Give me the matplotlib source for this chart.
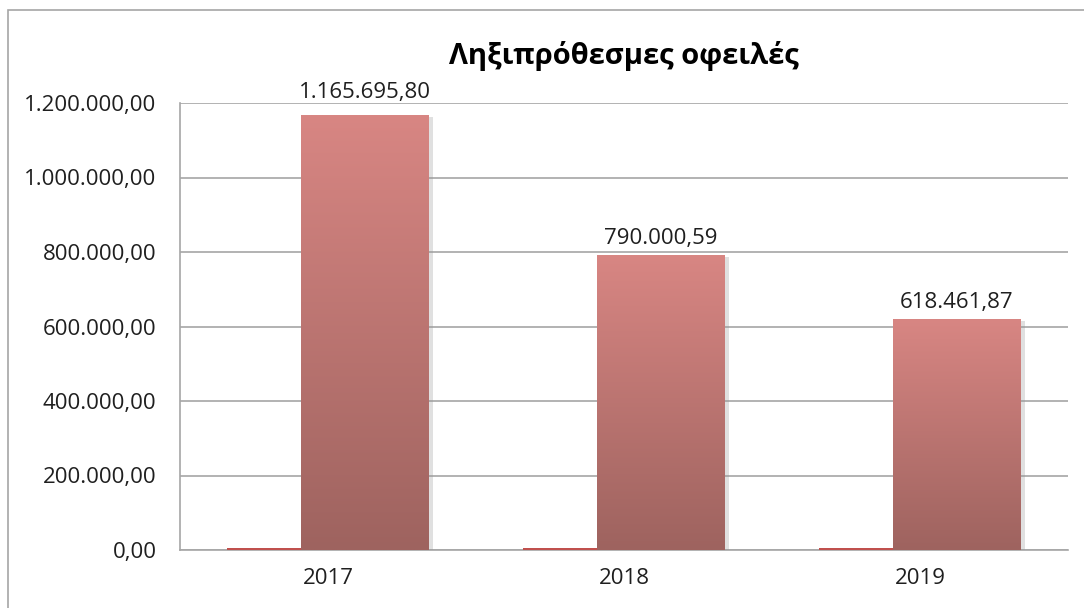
import matplotlib
matplotlib.use("Agg")
from matplotlib import pyplot as plt
from matplotlib.patches import Rectangle
import matplotlib.patheffects as pe
import numpy as np

plt.rcParams['font.family'] = ['Open Sans', 'DejaVu Sans']

years = ['2017', '2018', '2019']
overdue = [1165695.80, 790000.59, 618461.87]
# second series is almost zero, only a thin strip shows at the baseline
other = [5000, 5000, 5000]

yticks = [0, 200000, 400000, 600000, 800000, 1000000, 1200000]
ymax = 1200000


def greek_fmt(v):
    s = f"{v:,.2f}"
    return s.replace(',', '#').replace('.', ',').replace('#', '.')


fig = plt.figure(figsize=(10.84, 6.08), dpi=100)
ax = fig.add_axes([180 / 1084, 1 - 550 / 608, 888 / 1084, 447 / 608])

# outer chart frame
fig.patches.append(Rectangle((8 / 1084, -0.1), 1.2, 1 - 10 / 608 + 0.1,
                             transform=fig.transFigure, fill=False,
                             edgecolor='#a6a6a6', linewidth=1.2))

x = np.arange(len(years))
w = 0.43
off = 0.125

ax.bar(x - off, other, width=w, color='#c0504d', zorder=3)
bars = ax.bar(x + off, overdue, width=w, color='#a3655f', zorder=4,
              path_effects=[pe.SimplePatchShadow(offset=(3, -1), shadow_rgbFace='#999999', alpha=0.3),
                            pe.Normal()])

# vertical gradient on each main bar
top = np.array([216, 134, 131]) / 255
bottom = np.array([158, 99, 95]) / 255
t = np.linspace(0, 1, 256)[:, None]
grad = (bottom * (1 - t) + top * t)[:, None, :]
for b in bars:
    ax.imshow(grad, extent=[b.get_x(), b.get_x() + b.get_width(), 0, b.get_height()],
              origin='lower', aspect='auto', zorder=5)

# labels near the top of the axis get pushed above the plot area
for xi, v in zip(x, overdue):
    if v > 0.95 * ymax:
        anchor, dy = ymax, 0
    else:
        anchor, dy = v, 5
    ax.annotate(greek_fmt(v), (xi + off, anchor), xytext=(0, dy), textcoords='offset points',
                ha='center', va='bottom', fontsize=16, color='#1f1f1f', annotation_clip=False)

ax.set_xlim(-0.5, len(years) - 0.5)
ax.set_ylim(0, ymax)
ax.set_yticks(yticks)
ax.set_yticklabels([greek_fmt(v) for v in yticks])
ax.set_xticks(x)
ax.set_xticklabels(years)
ax.tick_params(axis='both', length=0, labelsize=16, colors='#1f1f1f')
ax.tick_params(axis='y', pad=17)
ax.tick_params(axis='x', pad=13)

ax.grid(axis='y', color='#a6a6a6', linewidth=1.2, zorder=0)
ax.set_axisbelow(True)
for s in ['top', 'right']:
    ax.spines[s].set_visible(False)
for s in ['left', 'bottom']:
    ax.spines[s].set_color('#a6a6a6')
    ax.spines[s].set_linewidth(1.2)

fig.text(624 / 1084, 1 - 56 / 608, 'Ληξιπρόθεσμες οφειλές', ha='center', va='center',
         fontsize=21, fontweight='bold', color='#000000')

fig.savefig('out.png', dpi=100)
